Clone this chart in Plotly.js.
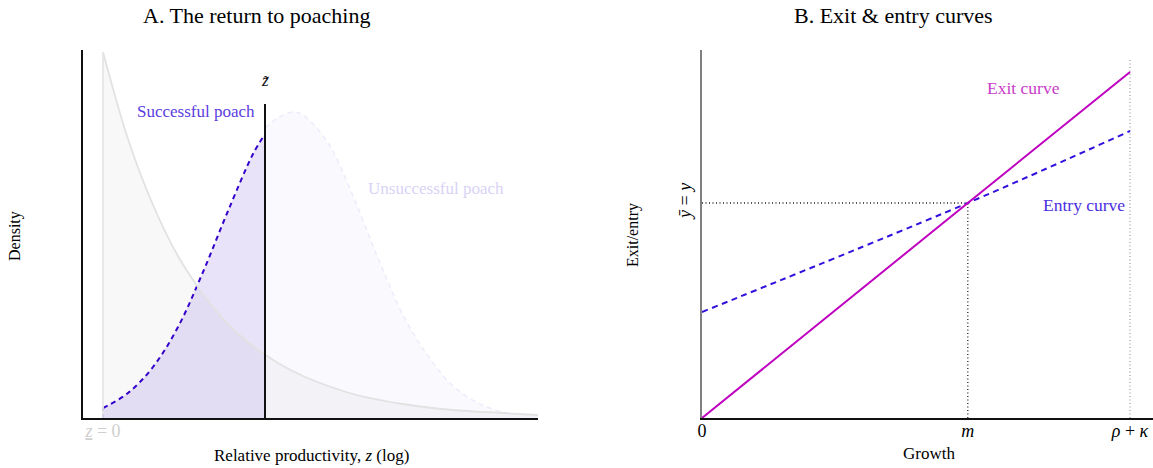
<!DOCTYPE html>
<html>
<head>
<meta charset="utf-8">
<script src="https://cdn.plot.ly/plotly-3.0.1.min.js"></script>
<style>html,body{margin:0;padding:0;background:#fff;}#chart{width:1153px;height:468px;}</style>
</head>
<body>
<div id="chart"></div>
<script>
// ---------- Panel A data (relative productivity in log units) ----------
const zGrid = [0, 0.25, 0.5, 0.75, 1.0, 1.25, 1.5, 1.75, 2.0, 2.5, 3.0, 3.5, 4.0, 4.35];
const incumbentDensity = [3.66, 2.79, 2.13, 1.62, 1.24, 0.94, 0.72, 0.55, 0.42, 0.24, 0.14, 0.08, 0.05, 0.03];

const zSuccess = [0, 0.25, 0.5, 0.75, 1.0, 1.25, 1.5, 1.62];
const densSuccess = [0.10, 0.25, 0.51, 0.91, 1.46, 2.07, 2.64, 2.84];

const zFail = [1.62, 1.75, 1.9, 2.0, 2.25, 2.5, 2.75, 3.0, 3.25, 3.5, 3.75, 4.0, 4.35];
const densFail = [2.90, 3.00, 3.06, 3.03, 2.75, 2.22, 1.60, 1.03, 0.62, 0.32, 0.15, 0.06, 0.02];

const zLower = 0;          // z underbar = 0
const zTilde = 1.62;       // threshold z tilde
const zTildeTop = 3.14;    // height of threshold marker

// ---------- Panel B data (growth) ----------
const growth = [0, 0.621, 1.0];          // 0, m, rho + kappa
const exitCurve = [0, 2.15, 3.46];
const entryCurve = [1.06, 2.15, 2.87];
const yBar = 2.15;
const mVal = 0.621;
const rhoKappa = 1.0;
const rkTop = 3.58;

const xTicksB = [0, mVal, rhoKappa];
const xTickTextB = ['0', '<i>m</i>', '<i>ρ</i> + <i>κ</i>'];
const yTicksB = [yBar];
const yTickTextB = ['<i>ȳ</i> = <i>y</i>'];

// ---------- layout helpers ----------
const W = 1153, H = 468, ML = 83, MR = 0, MT = 50, MB = 50;
const px = x => (x - ML) / (W - ML - MR);
const py = y => (H - MB - y) / (H - MT - MB);

const FONT = 'Liberation Serif, Times New Roman, serif';
const dashBlue = '#3300cc';

const traces = [
  {x: zGrid, y: incumbentDensity, xaxis: 'x', yaxis: 'y', type: 'scatter', mode: 'lines',
   line: {color: 'rgba(0,0,0,0)', width: 0, shape: 'spline'}, fill: 'tozeroy', fillcolor: 'rgba(0,0,0,0.026)', hoverinfo: 'skip'},
  {x: zFail, y: densFail, xaxis: 'x', yaxis: 'y', type: 'scatter', mode: 'lines',
   line: {color: '#eeecfb', width: 1.6, dash: '5px,4px', shape: 'spline'}, fill: 'tozeroy', fillcolor: 'rgba(110,80,210,0.035)', hoverinfo: 'skip'},
  {x: zSuccess, y: densSuccess, xaxis: 'x', yaxis: 'y', type: 'scatter', mode: 'lines',
   line: {color: dashBlue, width: 2, dash: '5px,4px', shape: 'spline'}, fill: 'tozeroy', fillcolor: 'rgba(110,80,210,0.16)', hoverinfo: 'skip'},
  {x: [zSuccess[0], zSuccess[0]], y: [0, densSuccess[0]], xaxis: 'x', yaxis: 'y', type: 'scatter', mode: 'lines',
   line: {color: dashBlue, width: 2, dash: '4px,3px'}, hoverinfo: 'skip'},
  {x: zGrid, y: incumbentDensity, xaxis: 'x', yaxis: 'y', type: 'scatter', mode: 'lines',
   line: {color: '#e2e2e2', width: 1.8, shape: 'spline'}, hoverinfo: 'skip'},
  {x: [zLower, zLower], y: [0, incumbentDensity[0]], xaxis: 'x', yaxis: 'y', type: 'scatter', mode: 'lines',
   line: {color: '#e6e6e6', width: 1.8}, hoverinfo: 'skip'},
  {x: [zTilde, zTilde], y: [0, zTildeTop], xaxis: 'x', yaxis: 'y', type: 'scatter', mode: 'lines',
   line: {color: '#111111', width: 2}, hoverinfo: 'skip'},

  {x: [mVal, mVal], y: [0, yBar], xaxis: 'x2', yaxis: 'y2', type: 'scatter', mode: 'lines',
   line: {color: '#222222', width: 1.3, dash: '1px,2.5px'}, hoverinfo: 'skip'},
  {x: [0, mVal], y: [yBar, yBar], xaxis: 'x2', yaxis: 'y2', type: 'scatter', mode: 'lines',
   line: {color: '#222222', width: 1.3, dash: '1px,2.5px'}, hoverinfo: 'skip'},
  {x: [rhoKappa, rhoKappa], y: [0, rkTop], xaxis: 'x2', yaxis: 'y2', type: 'scatter', mode: 'lines',
   line: {color: '#999999', width: 1.2, dash: '1px,2.5px'}, hoverinfo: 'skip'},
  {x: growth, y: entryCurve, xaxis: 'x2', yaxis: 'y2', type: 'scatter', mode: 'lines',
   line: {color: '#3311dd', width: 2, dash: '6px,4.5px', shape: 'spline'}, hoverinfo: 'skip'},
  {x: growth, y: exitCurve, xaxis: 'x2', yaxis: 'y2', type: 'scatter', mode: 'lines',
   line: {color: '#bf00bf', width: 2, shape: 'spline'}, hoverinfo: 'skip'}
];

const axBase = {showgrid: false, zeroline: false, ticks: '', showline: true, linewidth: 1.6, fixedrange: true};

const layout = {
  width: W, height: H,
  margin: {l: ML, r: MR, t: MT, b: MB, pad: 0},
  paper_bgcolor: '#ffffff', plot_bgcolor: 'rgba(0,0,0,0)',
  showlegend: false,
  font: {family: FONT, size: 17, color: '#000'},
  xaxis: Object.assign({}, axBase, {domain: [0, 455 / 1070], range: [-0.2, 4.35], linecolor: '#111',
    tickvals: [zLower], ticktext: ['<i><u>z</u></i> = 0'], tickfont: {color: '#cfcfcf', size: 18}, ticklabelstandoff: -4, anchor: 'y'}),
  yaxis: Object.assign({}, axBase, {domain: [0, 1], range: [0, 3.68], linecolor: '#111', showticklabels: false, anchor: 'x'}),
  xaxis2: Object.assign({}, axBase, {domain: [619 / 1070, 1], range: [0, 1.0537], linecolor: '#111',
    tickvals: xTicksB, ticktext: xTickTextB, tickfont: {size: 18}, ticklabelstandoff: -4, anchor: 'y2'}),
  yaxis2: Object.assign({}, axBase, {domain: [0, 1], range: [0, 3.68], linecolor: '#808080',
    tickvals: yTicksB, ticktext: yTickTextB, tickangle: -90, tickfont: {size: 18}, ticklabelstandoff: 2, anchor: 'x2'}),
  annotations: [
    {text: 'A. The return to poaching', xref: 'paper', yref: 'paper', x: px(256), y: py(15), xanchor: 'center', yanchor: 'middle', showarrow: false, font: {size: 22}},
    {text: 'B. Exit &amp; entry curves', xref: 'paper', yref: 'paper', x: px(893), y: py(15), xanchor: 'center', yanchor: 'middle', showarrow: false, font: {size: 22}},
    {text: 'Density', xref: 'paper', yref: 'paper', x: px(15), y: py(236), textangle: -90, xanchor: 'center', yanchor: 'middle', showarrow: false, font: {size: 16}},
    {text: 'Exit/entry', xref: 'paper', yref: 'paper', x: px(633), y: py(235), textangle: -90, xanchor: 'center', yanchor: 'middle', showarrow: false, font: {size: 16}},
    {text: 'Relative productivity, <i>z</i> (log)', xref: 'paper', yref: 'paper', x: px(311), y: py(455), xanchor: 'center', yanchor: 'middle', showarrow: false, font: {size: 17}},
    {text: 'Growth', xref: 'paper', yref: 'paper', x: px(929), y: py(453), xanchor: 'center', yanchor: 'middle', showarrow: false, font: {size: 17}},
    {text: 'Successful poach', xref: 'x', yref: 'y', x: 1.54, y: 3.07, xanchor: 'right', yanchor: 'middle', showarrow: false, font: {size: 17, color: '#5a3de0'}},
    {text: '<i>z̃</i>', xref: 'x', yref: 'y', x: zTilde, y: 3.38, xanchor: 'center', yanchor: 'middle', showarrow: false, font: {size: 17, color: '#111'}},
    {text: 'Unsuccessful poach', xref: 'x', yref: 'y', x: 3.33, y: 2.30, xanchor: 'center', yanchor: 'middle', showarrow: false, font: {size: 17, color: '#d8d3f6'}},
    {text: 'Exit curve', xref: 'x2', yref: 'y2', x: 0.75, y: 3.30, xanchor: 'center', yanchor: 'middle', showarrow: false, font: {size: 17.5, color: '#c83cc8'}},
    {text: 'Entry curve', xref: 'x2', yref: 'y2', x: 0.8925, y: 2.13, xanchor: 'center', yanchor: 'middle', showarrow: false, font: {size: 17.5, color: '#4a2ee0'}}
  ]
};

Plotly.newPlot('chart', traces, layout, {staticPlot: true, displayModeBar: false});
</script>
</body>
</html>
